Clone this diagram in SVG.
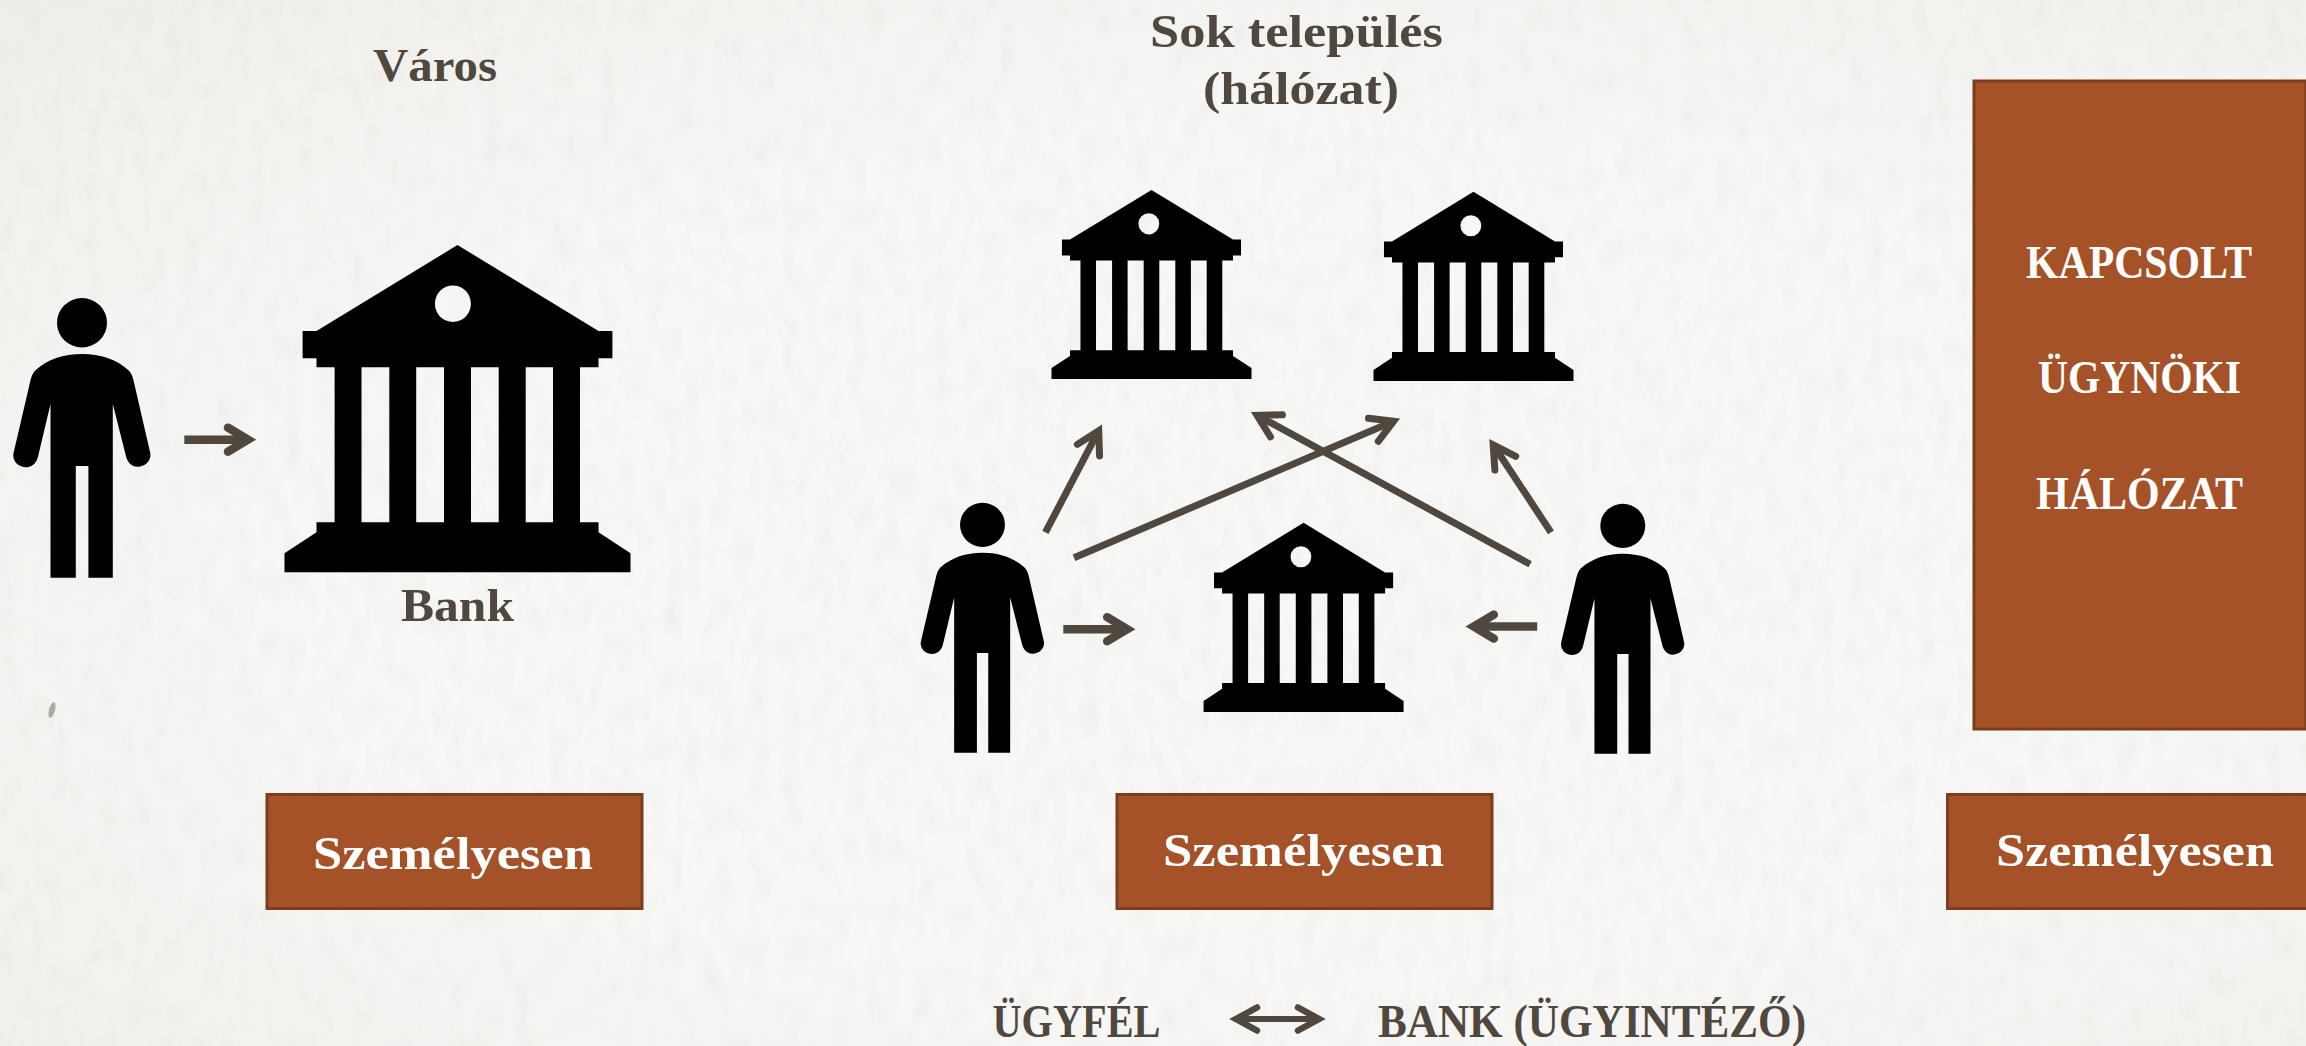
<svg xmlns="http://www.w3.org/2000/svg" width="2306" height="1046" viewBox="0 0 2306 1046">
<style>
text{font-family:"Liberation Serif","Times New Roman",serif;font-weight:700;font-size:47px}
.d{fill:#50483e;text-anchor:start}
.w{fill:#fff;text-anchor:start}
.box{fill:#a65229;stroke:#7c3d1e;stroke-width:3}
.ic{fill:#000;fill-rule:evenodd}
.a{fill:none;stroke:#50483e}
.a8{stroke-width:8.5;marker-end:url(#h8)}
.a7{stroke-width:7;marker-end:url(#h7)}
.a6{stroke-width:6;marker-start:url(#h6);marker-end:url(#h6)}
.hd{fill:none;stroke:#50483e;stroke-linecap:round;stroke-linejoin:miter;stroke-miterlimit:10}
</style>
<defs>
<radialGradient id="vig" cx="55%" cy="55%" r="78%">
<stop offset="0.5" stop-color="#e6e4de" stop-opacity="0"/>
<stop offset="1" stop-color="#dedcd6" stop-opacity="0.35"/>
</radialGradient>
<filter id="tex" x="0" y="0" width="100%" height="100%">
<feTurbulence type="fractalNoise" baseFrequency="0.06 0.03" numOctaves="4" seed="7"/>
<feColorMatrix type="matrix" values="0 0 0 0 0.62  0 0 0 0 0.61  0 0 0 0 0.58  0.9 0.9 0 0 -0.78"/>
</filter>
<marker id="h8" markerUnits="userSpaceOnUse" markerWidth="60" markerHeight="60" refX="0" refY="0" viewBox="-30 -30 60 60" orient="auto"><path class="hd" stroke-width="8.5" d="M-20,-12 L0,0 L-20,12"/></marker>
<marker id="h7" markerUnits="userSpaceOnUse" markerWidth="60" markerHeight="60" refX="0" refY="0" viewBox="-30 -30 60 60" orient="auto"><path class="hd" stroke-width="7" d="M-22,-12.5 L0,0 L-22,12.5"/></marker>
<marker id="h6" markerUnits="userSpaceOnUse" markerWidth="60" markerHeight="60" refX="0" refY="0" viewBox="-30 -30 60 60" orient="auto-start-reverse"><path class="hd" stroke-width="6.5" d="M-21,-11.5 L0,0 L-21,11.5"/></marker>
<path id="bank" class="ic" d="M173,0 L314,86 L327.9,86 L327.9,113.3 L314,113.3 L314,122.3 L295.5,122.3 L295.5,277.3 L314,277.3 L314,287.3 L346,308.3 L346,327.3 L0,327.3 L0,308.3 L32,287.3 L32,277.3 L50.1,277.3 L50.1,122.3 L32,122.3 L32,113.3 L18.1,113.3 L18.1,86 L32,86 Z M77,122.3 V277.3 H104.8 V122.3 Z M131.7,122.3 V277.3 H159.5 V122.3 Z M186.5,122.3 V277.3 H214.2 V122.3 Z M241.2,122.3 V277.3 H268.5 V122.3 Z M150.4,58.7 A18,18.3 0 1 0 186.4,58.7 A18,18.3 0 1 0 150.4,58.7 Z"/>
<g id="person" class="ic">
<ellipse cx="68.5" cy="24.4" rx="25" ry="24.7"/>
<path d="M68.5,55.7 C50,55.7 34,61 22,72 C19,75 18,78 17,82 L0,155 C-1.5,163 5,169 12.5,169 C18,169 23,165 24.5,158.4 L37,105.7 V279.4 H62.3 V167.7 H74.9 V279.4 H99.3 V105.7 L112.5,158 C114,164 118,168.5 124,168.5 C132,168.5 138,162 136.8,155 L120,82 C119,78 118,75 115,72 C103,61 87,55.7 68.5,55.7 Z"/>
</g>
</defs>
<g id="background">
<rect width="2306" height="1046" fill="#f7f7f5"/>
<rect width="2306" height="1046" filter="url(#tex)" opacity="0.25"/>
<rect width="2306" height="1046" fill="url(#vig)"/>
<ellipse cx="52" cy="710" rx="3" ry="8" fill="#a9a8a3" transform="rotate(15 52 710)"/>
</g>
<g id="connectors">
<line class="a a8" x1="184.3" y1="439.7" x2="248" y2="439.7"/>
<line class="a a7" x1="1045.4" y1="532.4" x2="1098.7" y2="430.7"/>
<line class="a a7" x1="1074" y1="557.7" x2="1393.6" y2="421.2"/>
<line class="a a7" x1="1530.1" y1="564.2" x2="1257.1" y2="415.3"/>
<line class="a a7" x1="1551" y1="532.4" x2="1493.2" y2="444.8"/>
<line class="a a8" x1="1063.3" y1="629.2" x2="1127.2" y2="629.2"/>
<line class="a a8" x1="1537.2" y1="626.6" x2="1473.8" y2="626.6"/>
<line class="a a6" x1="1236" y1="1019" x2="1319" y2="1019"/>
</g>
<g id="person-city"><use href="#person" transform="translate(13.5,298.3)"/></g>
<g id="bank-city"><use href="#bank" transform="translate(284.5,245)"/></g>
<g id="bank-1"><use href="#bank" transform="translate(1051.5,189.9) scale(.578)"/></g>
<g id="bank-2"><use href="#bank" transform="translate(1373.5,191.8) scale(.578)"/></g>
<g id="bank-3"><use href="#bank" transform="translate(1203.6,522.8) scale(.578)"/></g>
<g id="person-left"><use href="#person" transform="translate(920.9,503) scale(.899,.894)"/></g>
<g id="person-right"><use href="#person" transform="translate(1561.2,504) scale(.899,.894)"/></g>
<g id="title-city"><text class="d" x="373" y="81" textLength="124" lengthAdjust="spacingAndGlyphs">Város</text></g>
<g id="title-network">
<text class="d" x="1150" y="47" textLength="293" lengthAdjust="spacingAndGlyphs">Sok település</text>
<text class="d" x="1203" y="104" textLength="196" lengthAdjust="spacingAndGlyphs">(hálózat)</text>
</g>
<g id="label-bank"><text class="d" x="401" y="621" textLength="113" lengthAdjust="spacingAndGlyphs">Bank</text></g>
<g id="box-1"><rect class="box" x="267" y="794.5" width="375" height="114"/>
<text class="w" x="313" y="869" textLength="280" lengthAdjust="spacingAndGlyphs">Személyesen</text></g>
<g id="box-2"><rect class="box" x="1117" y="794.5" width="375" height="114"/>
<text class="w" x="1163" y="866" textLength="281" lengthAdjust="spacingAndGlyphs">Személyesen</text></g>
<g id="box-3"><rect class="box" x="1947.5" y="794.5" width="377" height="114"/>
<text class="w" x="1996" y="866" textLength="278" lengthAdjust="spacingAndGlyphs">Személyesen</text></g>
<g id="box-agents"><rect class="box" x="1974" y="81" width="332" height="648"/>
<text class="w" x="2026" y="278" textLength="226" lengthAdjust="spacingAndGlyphs">KAPCSOLT</text>
<text class="w" x="2038" y="393" textLength="203" lengthAdjust="spacingAndGlyphs">ÜGYNÖKI</text>
<text class="w" x="2036" y="509" textLength="207" lengthAdjust="spacingAndGlyphs">HÁLÓZAT</text></g>
<g id="legend">
<text class="d" x="992.5" y="1037" textLength="168" lengthAdjust="spacingAndGlyphs">ÜGYFÉL</text>
<text class="d" x="1378" y="1037" textLength="428" lengthAdjust="spacingAndGlyphs">BANK (ÜGYINTÉZŐ)</text>
</g>
</svg>
